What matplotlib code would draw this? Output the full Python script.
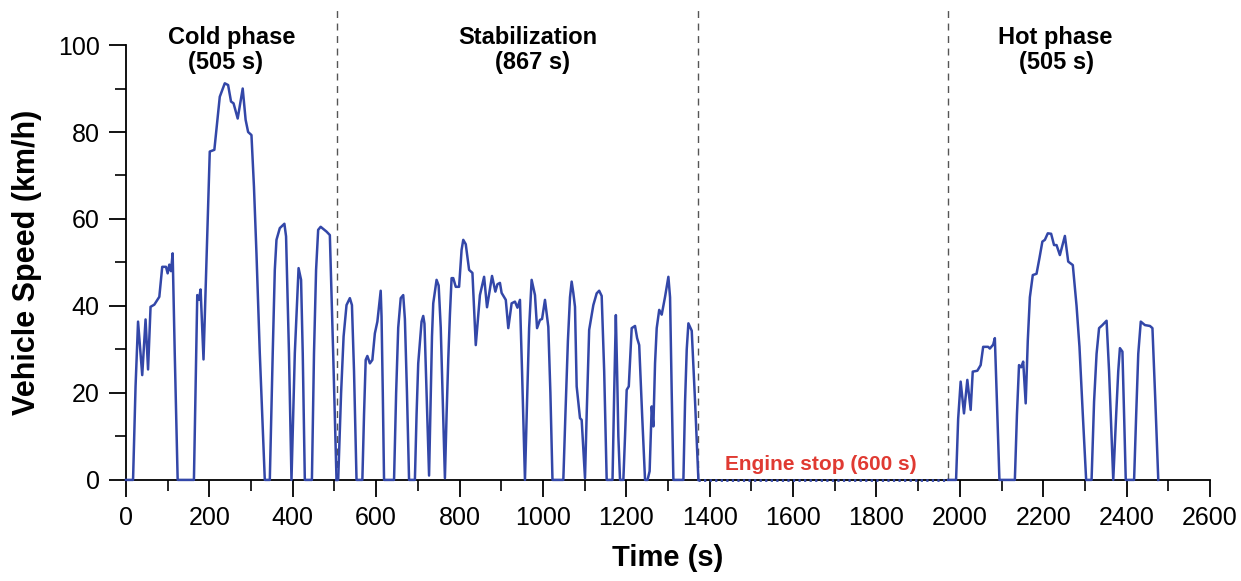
import numpy as np
import matplotlib
matplotlib.use('Agg')
import matplotlib.pyplot as plt
from matplotlib.ticker import MultipleLocator

plt.rcParams['font.family'] = ['Liberation Sans', 'DejaVu Sans']

# Cold phase (0-505 s)
t_cold = [0, 17, 23, 29, 39, 47, 53, 59, 68, 80, 87, 96, 100, 104, 108, 112, 117, 124,
          163, 171, 175, 179, 186, 201, 212, 225, 237, 245, 252, 258, 268, 280, 287, 293,
          301, 307, 313, 321, 333, 345, 352, 357, 361, 369, 380, 384, 391, 397, 405, 414,
          420, 424, 429, 446, 451, 456, 461, 467, 481, 489, 497, 505]
v_cold = [0, 0, 21.5, 36.4, 24.1, 36.9, 25.4, 39.8, 40.3, 42.1, 49, 49, 47.5, 49.5, 48, 52.1, 29.1, 0,
          0, 42.5, 41.4, 43.8, 27.7, 75.5, 75.9, 88.1, 91.2, 90.8, 87, 86.6, 83.1, 90, 82.8, 80,
          79.3, 67.4, 52.1, 29.1, 0, 0, 29.1, 48.3, 55.2, 57.9, 58.9, 56, 29.1, 0, 29.1, 48.7,
          46, 29.1, 0, 0, 29.1, 48.3, 57.5, 58.2, 57.1, 56.3, 29.1, 0]

# Stabilization (505-1372 s)
t_stab = [505, 509, 516, 522, 529, 537, 542, 547, 553, 567, 571, 575, 579, 585, 591, 597, 603,
          611, 613, 616, 619, 643, 648, 653, 659, 665, 669, 674, 679, 693, 697, 701, 709, 713,
          716, 721, 727, 731, 734, 737, 745, 750, 755, 760, 765, 769, 773, 777, 781, 785, 791,
          799, 805, 809, 815, 823, 831, 839, 849, 859, 866, 878, 886, 891, 897, 901, 911, 917,
          925, 933, 939, 945, 950, 957, 962, 967, 973, 981, 986, 993, 998, 1005, 1013, 1018,
          1023, 1049, 1054, 1060, 1065, 1069, 1073, 1077, 1081, 1089, 1093, 1097, 1101, 1105,
          1111, 1121, 1129, 1135, 1141, 1147, 1153, 1167, 1171, 1175, 1178, 1181, 1185, 1193,
          1197, 1201, 1206, 1213, 1221, 1226, 1231, 1238, 1245, 1251, 1256, 1261, 1265, 1269,
          1273, 1279, 1285, 1293, 1301, 1305, 1309, 1313, 1337, 1341, 1345, 1349, 1357, 1365, 1373]
v_stab = [0, 0, 20, 33, 40.2, 41.8, 40.2, 25, 0, 0, 15, 27.6, 28.5, 26.8, 27.6, 33.7, 36.4,
          43.5, 37.6, 20, 0, 0, 20, 35, 41.8, 42.5, 37, 20, 0, 0, 15, 26.8, 36.4, 37.7,
          35.9, 20, 1, 20, 33, 40.6, 46, 44.7, 35, 18, 0.4, 15, 27.6, 38, 46.4, 46.4, 44.4,
          44.4, 52.9, 55.2, 54.2, 48.3, 47.6, 31, 42.5, 46.7, 39.7, 46.9, 43.3, 45, 45.3, 43, 41.4, 34.9,
          40.6, 41, 39.6, 41.4, 25, 0, 18, 35, 46, 42.5, 34.9, 36.8, 37, 41.4, 35.2, 20,
          0, 0, 15, 32, 42, 45.6, 43, 39.8, 21.5, 14.2, 13.8, 7, 0.4, 15,
          34.5, 40.2, 42.9, 43.5, 42.3, 25, 0, 0, 20, 37.9, 25, 10, 0, 0,
          10, 20.7, 21.5, 34.9, 35.4, 32.6, 31, 15, 0, 0, 2, 16.9, 12.3, 26.8,
          34.9, 39.1, 38, 42.1, 46.7, 42, 20, 0, 0, 18, 30, 36, 34.3, 18, 0]

# Engine stop (600 s)
t_stop = [1373, 1972]
v_stop = [0, 0]

# Hot phase (1972-2477 s)
t_hot = [1972, 1991, 1996, 2002, 2010, 2018, 2026, 2031, 2042, 2050, 2056, 2068, 2072, 2080,
         2084, 2089, 2095, 2132, 2137, 2142, 2147, 2152, 2158, 2163, 2168, 2175, 2184, 2191,
         2198, 2204, 2211, 2219, 2226, 2232, 2240, 2252, 2260, 2271, 2280, 2287, 2295, 2303,
         2316, 2322, 2328, 2334, 2342, 2352, 2358, 2368, 2375, 2380, 2384, 2390, 2394, 2398,
         2418, 2423, 2428, 2434, 2444, 2456, 2462, 2469, 2476]
v_hot = [0, 0, 14, 22.6, 15.3, 23, 16.1, 24.9, 25.1, 26.4, 30.6, 30.6, 30.2, 31.1,
         32.6, 18, 0, 0, 15, 26.4, 25.9, 27.2, 17.6, 32, 42, 47.1, 47.4, 51,
         54.8, 55.2, 56.7, 56.6, 54, 54, 51.7, 56.1, 50.2, 49.4, 40, 30.6, 15, 0,
         0, 18, 29, 34.9, 35.6, 36.6, 25, 0, 15, 25, 30.3, 29.5, 15, 0,
         0, 15, 29, 36.4, 35.6, 35.4, 34.9, 18, 0]

phase_bounds = [505, 1372, 1972]
line_col = '#3347a8'

fig = plt.figure(figsize=(12.41, 5.81), dpi=100)
ax = fig.add_axes([0.1015, 0.174, 0.8735, 0.7485])

for t, v in [(t_cold, v_cold), (t_stab, v_stab), (t_hot, v_hot)]:
    ax.plot(t, v, color=line_col, lw=1.8, clip_on=False, zorder=3)
ax.plot(t_stop, v_stop, color=line_col, lw=2.0, linestyle=(0, (0.8, 1.2)),
        clip_on=False, zorder=3)

for xb in phase_bounds:
    ax.plot([xb, xb], [0, 108], color='#555555', lw=1.0, linestyle=(0, (5, 4)), clip_on=False)

ax.set_xlim(0, 2600)
ax.set_ylim(0, 100)
ax.xaxis.set_major_locator(MultipleLocator(200))
ax.xaxis.set_minor_locator(MultipleLocator(100))
ax.yaxis.set_major_locator(MultipleLocator(20))
ax.yaxis.set_minor_locator(MultipleLocator(10))
ax.tick_params(which='major', direction='out', length=12, width=1.3, labelsize=18, pad=7)
ax.tick_params(which='minor', direction='out', length=8, width=1.2)
for s in ['top', 'right']:
    ax.spines[s].set_visible(False)
for s in ['left', 'bottom']:
    ax.spines[s].set_linewidth(1.3)

ax.set_xlabel('Time (s)', fontsize=21, fontweight='bold', labelpad=10)
ax.set_ylabel('Vehicle Speed (km/h)', fontsize=22, fontweight='bold')
ax.yaxis.set_label_coords(-0.077, 0.5)

kw = dict(fontsize=17, fontweight='bold', ha='center', va='center')
ax.text(254, 101.8, 'Cold phase', clip_on=False, **kw)
ax.text(239, 96.0, '(505 s)', clip_on=False, **kw)
ax.text(964, 101.8, 'Stabilization', clip_on=False, **kw)
ax.text(976, 96.0, '(867 s)', clip_on=False, **kw)
ax.text(2228, 101.8, 'Hot phase', clip_on=False, **kw)
ax.text(2233, 96.0, '(505 s)', clip_on=False, **kw)
ax.text(1667, 3.5, 'Engine stop (600 s)', fontsize=15, fontweight='bold',
        color='#e03a32', ha='center', va='center')

fig.savefig('out.png', dpi=100)
